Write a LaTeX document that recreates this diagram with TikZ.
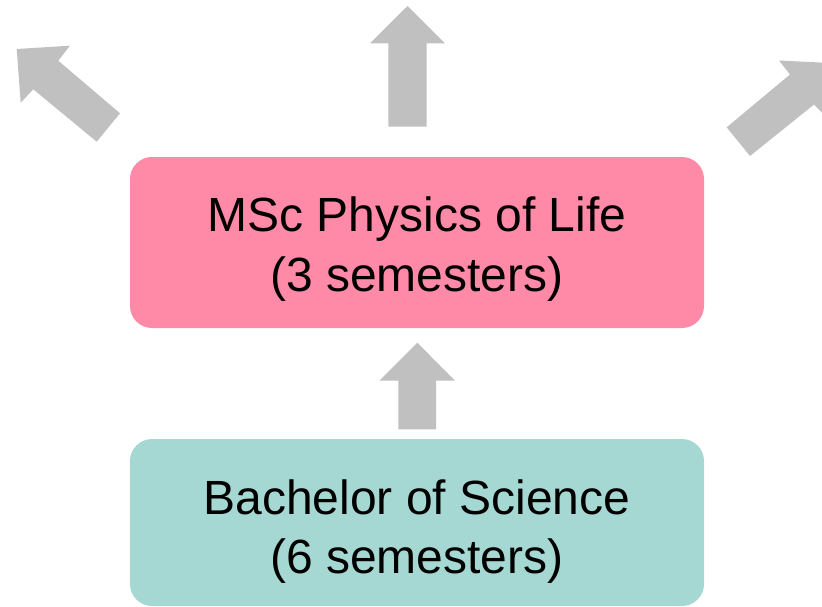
\documentclass[tikz,border=0pt]{standalone}
\usepackage{fontspec}
\setmainfont{Liberation Sans}
\definecolor{boxpink}{RGB}{255,138,167}
\definecolor{boxteal}{RGB}{165,216,210}
\definecolor{arrowgrey}{RGB}{192,192,192}
\begin{document}
\begin{tikzpicture}[x=1pt,y=-1pt,
  stagebox/.style={rounded corners=22pt, draw=none},
  blockarrow/.style={fill=arrowgrey, draw=none},
  label/.style={anchor=base, inner sep=0pt, font=\fontsize{48}{58}\selectfont, text=black}]
\useasboundingbox (0,0) rectangle (822,606);
\begin{scope}
\clip (0,0) rectangle (822,606);
% boxes
\fill[stagebox, fill=boxpink] (130,157) rectangle (704,328);
\fill[stagebox, fill=boxteal] (130,439) rectangle (704,606);
\node[inner sep=0pt, minimum width=574pt, minimum height=171pt] (msc) at (417,242.5) {};
\node[inner sep=0pt, minimum width=574pt, minimum height=167pt] (bsc) at (417,522.5) {};
% arrows
\fill[blockarrow] (417.3,342.7) -- (455,380.7) -- (436,380.7) -- (436,429.3) -- (398.3,429.3) -- (398.3,380.7) -- (379.3,380.7) -- cycle;
\fill[blockarrow] (407.5,6) -- (445,43.3) -- (426.7,43.3) -- (426.7,126.7) -- (388.3,126.7) -- (388.3,43.3) -- (370,43.3) -- cycle;
\fill[blockarrow] (16.7,49) -- (70,45.7) -- (58.3,60.7) -- (120,113.3) -- (96.7,141.7) -- (33.3,89.3) -- (20.7,102.7) -- cycle;
\fill[blockarrow] (830,63) -- (826,116.7) -- (814,104.5) -- (750,156) -- (726.7,127.3) -- (790,74.5) -- (779,60.5) -- cycle;
\end{scope}
% labels
\node[label] (msc1) at (417,231.5) {MSc Physics of Life};
\node[label] (msc2) at (417,291) {(3 semesters)};
\node[label] (bsc1) at (417,514.3) {Bachelor of Science};
\node[label] (bsc2) at (417,573) {(6 semesters)};
\end{tikzpicture}
\end{document}
